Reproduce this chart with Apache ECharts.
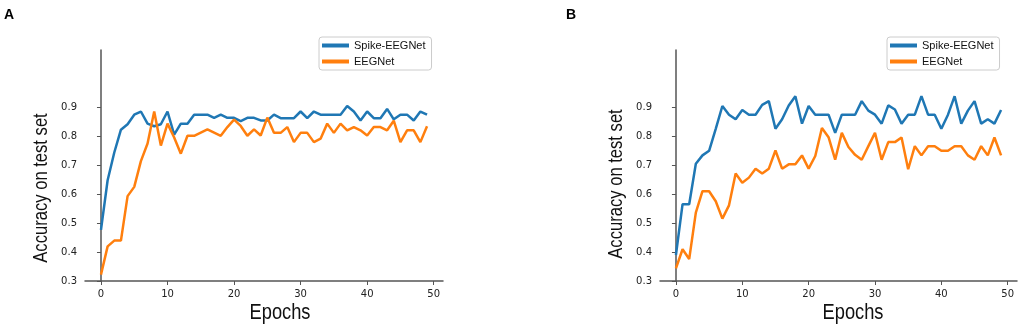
<!DOCTYPE html>
<html>
<head>
<meta charset="utf-8">
<script src="https://cdn.jsdelivr.net/npm/echarts@6/dist/echarts.min.js"></script>
<style>
  html, body { margin: 0; padding: 0; background: #fff; }
  #chart { width: 1021px; height: 326px; }
</style>
</head>
<body>
<div id="chart"></div>
<script>
// test accuracy per epoch
const spikeA = [0.477, 0.649, 0.745, 0.824, 0.843, 0.876, 0.887, 0.845, 0.836, 0.843,
  0.887, 0.807, 0.845, 0.845, 0.876, 0.876, 0.876, 0.865, 0.876, 0.865,
  0.865, 0.854, 0.865, 0.865, 0.856, 0.856, 0.876, 0.864, 0.864, 0.864,
  0.887, 0.864, 0.887, 0.876, 0.876, 0.876, 0.876, 0.906, 0.887, 0.856,
  0.887, 0.864, 0.864, 0.896, 0.860, 0.876, 0.876, 0.856, 0.887, 0.876];
const eegA = [0.322, 0.420, 0.440, 0.440, 0.594, 0.626, 0.715, 0.776, 0.887, 0.769,
  0.845, 0.797, 0.741, 0.803, 0.803, 0.814, 0.825, 0.814, 0.803, 0.833,
  0.859, 0.837, 0.803, 0.825, 0.804, 0.866, 0.813, 0.813, 0.833, 0.781,
  0.813, 0.813, 0.781, 0.793, 0.845, 0.813, 0.845, 0.822, 0.833, 0.822,
  0.804, 0.833, 0.833, 0.822, 0.855, 0.781, 0.822, 0.822, 0.781, 0.836];
const spikeB = [0.390, 0.566, 0.566, 0.706, 0.735, 0.751, 0.827, 0.906, 0.876, 0.860,
  0.892, 0.876, 0.876, 0.910, 0.923, 0.827, 0.860, 0.908, 0.940, 0.845,
  0.906, 0.876, 0.876, 0.876, 0.813, 0.876, 0.876, 0.876, 0.923, 0.890,
  0.876, 0.845, 0.908, 0.894, 0.845, 0.876, 0.876, 0.940, 0.876, 0.876,
  0.827, 0.876, 0.940, 0.845, 0.890, 0.923, 0.845, 0.860, 0.845, 0.892];
const eegB = [0.344, 0.410, 0.376, 0.537, 0.611, 0.611, 0.576, 0.516, 0.562, 0.672,
  0.640, 0.658, 0.689, 0.672, 0.689, 0.752, 0.689, 0.704, 0.704, 0.735,
  0.689, 0.733, 0.830, 0.798, 0.720, 0.813, 0.764, 0.737, 0.720, 0.767,
  0.813, 0.720, 0.781, 0.781, 0.797, 0.687, 0.767, 0.735, 0.767, 0.767,
  0.751, 0.751, 0.767, 0.767, 0.735, 0.720, 0.767, 0.735, 0.797, 0.735];
const xTicks = [0, 10, 20, 30, 40, 50];
const yTicks = [0.3, 0.4, 0.5, 0.6, 0.7, 0.8, 0.9];
const seriesNames = ['Spike-EEGNet', 'EEGNet'];
const panelLabels = ['A', 'B'];

const colors = ['#1f77b4', '#ff7f0e'];
const spineColor = '#555';
const tickFont = 'DejaVu Sans';
// no narrow font installed, so squeeze Liberation Sans horizontally
const nameFont = '"Liberation Sans", Arial, sans-serif';

const toPairs = (arr) => arr.map((v, i) => [i, v]);

const grids = [
  { left: 85, top: 50, width: 358, height: 231 },
  { left: 660, top: 50, width: 357, height: 231 }
];

const xAxisBase = (gridIndex) => ({
  type: 'value',
  gridIndex,
  min: -2.4,
  max: 51.4,
  splitLine: { show: false },
  axisLine: { show: true, lineStyle: { color: spineColor, width: 1.5 } },
  axisTick: { show: true, length: 4, customValues: xTicks, lineStyle: { color: spineColor } },
  axisLabel: {
    customValues: xTicks,
    margin: 8,
    color: '#222',
    fontFamily: tickFont,
    fontSize: 10
  }
});

const yAxisBase = (gridIndex) => ({
  type: 'value',
  gridIndex,
  min: 0.3,
  max: 1.1,
  splitLine: { show: false },
  axisLine: { show: true, lineStyle: { color: spineColor, width: 1.5 } },
  axisTick: { show: true, length: 4, customValues: yTicks, lineStyle: { color: spineColor } },
  axisLabel: {
    customValues: yTicks,
    margin: 8,
    color: '#222',
    fontFamily: tickFont,
    fontSize: 10,
    formatter: (v) => v.toFixed(1)
  }
});

const lineSeries = (name, data, idx, color) => ({
  name,
  type: 'line',
  xAxisIndex: idx,
  yAxisIndex: idx,
  data: toPairs(data),
  showSymbol: false,
  symbol: 'none',
  lineStyle: { width: 2.5, color },
  itemStyle: { color },
  z: name === 'EEGNet' ? 3 : 2
});

const legendBase = (left) => ({
  left,
  top: 37,
  orient: 'vertical',
  data: seriesNames,
  icon: 'rect',
  itemWidth: 27,
  itemHeight: 4,
  itemGap: 5,
  padding: [3, 6, 3, 3],
  borderColor: '#ccc',
  borderWidth: 1,
  borderRadius: 3,
  selectedMode: false,
  textStyle: { fontFamily: 'Liberation Sans', fontSize: 11, color: '#111' }
});

const axisTitle = (text, x, y, rotate, size) => ({
  type: 'text',
  x,
  y,
  rotation: rotate ? Math.PI / 2 : 0,
  scaleX: 0.83,
  style: {
    text,
    font: `${size}px ${nameFont}`,
    fill: '#111',
    align: 'center',
    verticalAlign: 'middle'
  }
});

const chart = echarts.init(document.getElementById('chart'), null, { renderer: 'canvas' });
chart.setOption({
  animation: false,
  backgroundColor: '#fff',
  grid: grids,
  xAxis: [xAxisBase(0), xAxisBase(1)],
  yAxis: [yAxisBase(0), yAxisBase(1)],
  legend: [legendBase(319), legendBase(887)],
  series: [
    lineSeries(seriesNames[0], spikeA, 0, colors[0]),
    lineSeries(seriesNames[1], eegA, 0, colors[1]),
    lineSeries(seriesNames[0], spikeB, 1, colors[0]),
    lineSeries(seriesNames[1], eegB, 1, colors[1])
  ],
  graphic: [
    { type: 'text', left: 4, top: 8, style: { text: panelLabels[0], font: 'bold 14px "Liberation Sans", sans-serif', fill: '#000' } },
    { type: 'text', left: 566, top: 8, style: { text: panelLabels[1], font: 'bold 14px "Liberation Sans", sans-serif', fill: '#000' } },
    axisTitle('Accuracy on test set', 41, 188, true, 20),
    axisTitle('Accuracy on test set', 616, 184, true, 20),
    axisTitle('Epochs', 280, 313, false, 22),
    axisTitle('Epochs', 853, 313, false, 22)
  ]
});
</script>
</body>
</html>
